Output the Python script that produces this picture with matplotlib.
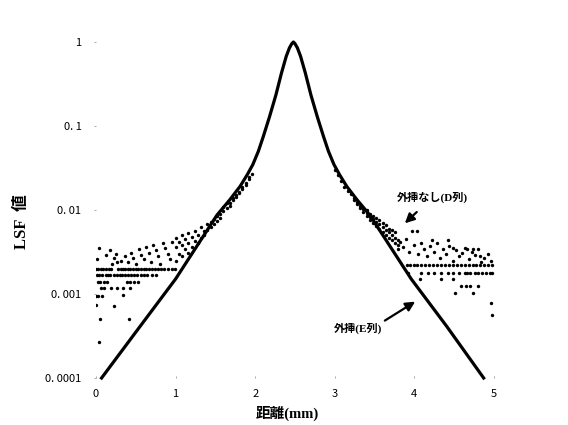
import matplotlib
matplotlib.use("Agg")
import matplotlib.pyplot as plt

# extrapolated curve (E column)
line_x = [0.07, 0.55, 1.00, 1.52, 1.68, 1.81, 1.90, 1.97, 2.04, 2.10, 2.18, 2.26, 2.33, 2.39,
          2.43, 2.46, 2.48, 2.50, 2.53, 2.57, 2.63, 2.70, 2.78, 2.86, 2.92, 2.99, 3.06, 3.15,
          3.28, 3.44, 3.96, 4.41, 4.87]
line_y = [0.0001, 0.000407, 0.00151, 0.0087, 0.0132, 0.0191, 0.0263, 0.0347, 0.0501, 0.0741,
          0.129, 0.234, 0.427, 0.676, 0.851, 0.955, 1.0, 0.955, 0.851, 0.676, 0.427, 0.234,
          0.129, 0.0741, 0.0501, 0.0347, 0.0263, 0.0191, 0.0132, 0.0087, 0.00151, 0.000407,
          0.0001]

# measured data without extrapolation (D column), left tail
left_x = [0.00, 0.03, 0.06, 0.09, 0.13, 0.16, 0.19, 0.28, 0.31, 0.34, 0.37, 0.40, 0.43, 0.46,
          0.50, 0.53, 0.56, 0.60, 0.63, 0.66, 0.70, 0.74, 0.78, 0.82, 0.86, 0.90, 0.95, 0.99,
          0.01, 0.04, 0.08, 0.12, 0.15, 0.18, 0.22, 0.26, 0.30, 0.33, 0.36, 0.40, 0.44, 0.48,
          0.52, 0.56, 0.60, 0.64, 0.70, 0.75,
          0.02, 0.05, 0.10, 0.14, 0.39, 0.43, 0.48, 0.53,
          0.06, 0.10, 0.19, 0.27, 0.34, 0.43,
          0.00, 0.03, 0.07, 0.34, 0.00, 0.23, 0.05, 0.42, 0.04,
          0.04, 0.17, 0.01, 0.12, 0.22, 0.25, 0.27, 0.20,
          0.32, 0.36, 0.40, 0.44, 0.47, 0.50, 0.54, 0.57, 0.60, 0.63, 0.66, 0.69, 0.72, 0.75,
          0.78, 0.81, 0.84, 0.87, 0.90, 0.93, 0.96,
          1.00, 1.00, 1.00, 1.04, 1.04, 1.08, 1.08, 1.08, 1.12, 1.12, 1.16, 1.16, 1.16,
          1.20, 1.20, 1.24, 1.24, 1.28, 1.28, 1.32, 1.32, 1.36, 1.36, 1.40, 1.40, 1.44, 1.44,
          1.48, 1.48, 1.52, 1.52, 1.56, 1.56, 1.60, 1.60, 1.64, 1.64, 1.68, 1.68, 1.72, 1.72,
          1.76, 1.76, 1.80, 1.80, 1.84, 1.84, 1.88, 1.88, 1.92, 1.92, 1.96]
left_y = [0.0020] * 28 + [0.0017] * 20 + [0.0014] * 8 + [0.00118] * 6 + \
         [0.00095, 0.00095, 0.00095, 0.00096, 0.00074, 0.00072, 0.00051, 0.00051, 0.00027,
          0.0035, 0.0033, 0.0026, 0.0029, 0.0027, 0.0030, 0.0024, 0.0023,
          0.0025, 0.0028, 0.0024, 0.0031, 0.0027, 0.0023, 0.0034, 0.0029, 0.0026, 0.0036,
          0.0031, 0.0024, 0.0038, 0.0033, 0.0028, 0.0023, 0.0040, 0.0035, 0.0030, 0.0026,
          0.0042,
          0.0047, 0.0036, 0.0025, 0.0042, 0.0030, 0.0050, 0.0038, 0.0028, 0.0045, 0.0034,
          0.0053, 0.0040, 0.0031, 0.0048, 0.0036, 0.0056, 0.0043, 0.0051, 0.0040, 0.0062,
          0.0047, 0.0056, 0.0050, 0.0068, 0.0058, 0.0063, 0.0072, 0.0078, 0.0068, 0.0073,
          0.0085, 0.0090, 0.0080, 0.0098, 0.0110, 0.0105, 0.0120, 0.0122, 0.0112, 0.0132,
          0.0140, 0.0150, 0.0142, 0.0165, 0.0158, 0.0180, 0.0190, 0.0210, 0.0200, 0.0235,
          0.0245, 0.0270]

# right tail
right_x = [3.00, 3.04, 3.08, 3.12, 3.16, 3.20, 3.24, 3.24, 3.28, 3.28, 3.32, 3.32, 3.36, 3.36,
           3.40, 3.40, 3.40, 3.44, 3.44, 3.44, 3.48, 3.48, 3.48, 3.52, 3.52, 3.52, 3.56, 3.56,
           3.56, 3.60, 3.60, 3.60, 3.64, 3.64, 3.64, 3.68, 3.68, 3.68, 3.72, 3.72, 3.72, 3.76,
           3.76, 3.76, 3.80, 3.80, 3.80,
           3.82, 3.86, 3.90, 3.93, 3.97, 4.00, 4.04, 4.08, 4.12, 4.16, 4.20, 4.24, 4.28, 4.32,
           4.36, 4.40, 4.44, 4.48, 4.52, 4.56, 4.60, 4.64, 4.68, 4.72, 4.76, 4.80, 4.84, 4.88,
           4.92, 4.96, 4.03, 4.22, 4.42, 4.49, 4.66, 4.74, 4.82,
           3.91, 3.95, 3.99, 4.03, 4.08, 4.13, 4.18, 4.23, 4.28, 4.33, 4.38, 4.43, 4.48, 4.53,
           4.58, 4.63, 4.68, 4.73, 4.78, 4.83, 4.88, 4.93, 4.98,
           3.92, 4.08, 4.17, 4.25, 4.34, 4.42, 4.49, 4.56, 4.63, 4.66, 4.70, 4.76, 4.80, 4.85,
           4.90, 4.95, 4.98,
           4.07, 4.34, 4.48, 4.58, 4.65, 4.70, 4.80, 4.51, 4.73, 4.96, 4.97]
right_y = [0.030, 0.026, 0.022, 0.019, 0.017, 0.0155, 0.0138, 0.0130, 0.0125, 0.0118, 0.0112,
           0.0105, 0.0102, 0.0095, 0.0092, 0.0085, 0.0100, 0.0082, 0.0090, 0.0076, 0.0078,
           0.0070, 0.0085, 0.0072, 0.0064, 0.0080, 0.0068, 0.0060, 0.0075, 0.0062, 0.0055,
           0.0070, 0.0058, 0.0050, 0.0066, 0.0054, 0.0047, 0.0060, 0.0050, 0.0044, 0.0058,
           0.0047, 0.0041, 0.0054, 0.0044, 0.0038, 0.0034,
           0.0042, 0.0036, 0.0045, 0.0032, 0.0056, 0.0038, 0.0030, 0.0041, 0.0034, 0.0028,
           0.0037, 0.0032, 0.0040, 0.0027, 0.0034, 0.0030, 0.0037, 0.0025, 0.0033, 0.0028,
           0.0031, 0.0035, 0.0026, 0.0032, 0.0029, 0.0034, 0.0024, 0.0027, 0.0030, 0.0025,
           0.0056, 0.0044, 0.0044, 0.0035, 0.0034, 0.0034, 0.0028] + \
          [0.0022] * 23 + [0.0018] * 17 + \
          [0.0015, 0.0015, 0.0015, 0.00126, 0.00126, 0.00126, 0.00126, 0.00103, 0.00103,
           0.00079, 0.00056]

tick_vals = [0.0001, 0.001, 0.01, 0.1, 1]
tick_text = ["0. 0001", "0. 001", "0. 01", "0. 1", "1"]
jp = ["Liberation Serif", "Noto Sans CJK JP"]

fig = plt.figure(figsize=(5.68, 4.25), dpi=100)
ax = fig.add_axes([96 / 568, 47 / 425, 398 / 568, 336 / 425])

ax.scatter(left_x, left_y, s=6, c="black", linewidths=0, zorder=2)
ax.scatter(right_x, right_y, s=6, c="black", linewidths=0, zorder=2)
ax.plot(line_x, line_y, color="black", lw=2.3, zorder=3, clip_on=False,
        solid_joinstyle="round")

ax.set_yscale("log")
ax.set_xlim(0, 5)
ax.set_ylim(0.0001, 1)
ax.set_yticks(tick_vals)
ax.set_yticklabels(tick_text)
ax.minorticks_off()
ax.set_xticks([0, 1, 2, 3, 4, 5])
for s in ax.spines.values():
    s.set_visible(False)
ax.tick_params(axis="y", length=1.5, width=0.6, color="#999999", pad=9, labelsize=8)
ax.tick_params(axis="x", direction="in", length=1.5, width=0.6, color="#999999", pad=8,
               labelsize=8)
for lab in ax.get_xticklabels() + ax.get_yticklabels():
    lab.set_family("Noto Sans CJK JP")

fig.text(22 / 568, 1 - 222 / 425, "LSF  値", rotation=90, ha="center", va="center",
         family=jp, fontsize=12, fontweight="bold")
fig.text(287 / 568, 1 - 413 / 425, "距離(mm)", ha="center", va="center",
         family=jp, fontsize=10.5, fontweight="bold")

ax.annotate("外挿なし(D列)", xy=(3.88, 0.00695), xytext=(4.23, 0.0143),
            ha="center", va="center", family=jp, fontsize=8, fontweight="bold",
            arrowprops=dict(arrowstyle="-|>,head_length=0.7,head_width=0.35",
                            color="black", lw=1.6, shrinkA=7, shrinkB=0))
ax.annotate("外挿(E列)", xy=(4.01, 0.000811), xytext=(3.29, 0.000394),
            ha="center", va="center", family=jp, fontsize=8, fontweight="bold",
            arrowprops=dict(arrowstyle="-|>,head_length=0.7,head_width=0.35",
                            color="black", lw=1.6, shrinkA=0, shrinkB=0,
                            relpos=(1.0, 1.0)))

fig.savefig("out.png", dpi=100)
